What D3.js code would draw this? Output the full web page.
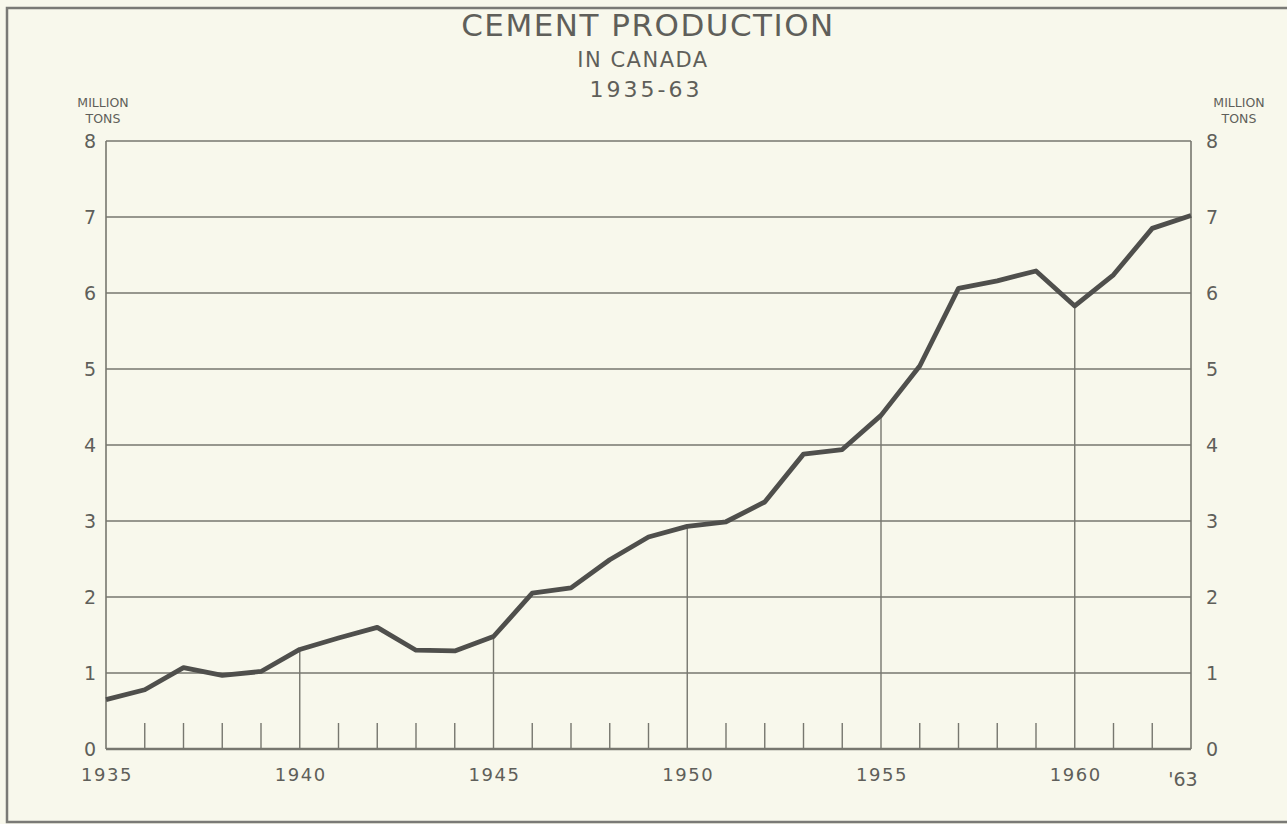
<!DOCTYPE html>
<html>
<head>
<meta charset="utf-8">
<script src="https://cdn.jsdelivr.net/npm/d3@7"></script>
<style>
  body { margin:0; background:#f8f8ec; }
  svg { display:block; }
  text { font-family: "DejaVu Sans", sans-serif; fill:#5f5f5a; }
</style>
</head>
<body>
<div id="chart"></div>
<script>
// cement production in Canada, million tons
let years = d3.range(1935, 1964);
let production = [0.65, 0.78, 1.07, 0.97, 1.02, 1.31, 1.46, 1.60, 1.30, 1.29,
                  1.48, 2.05, 2.12, 2.49, 2.79, 2.93, 2.99, 3.25, 3.88, 3.94,
                  4.39, 5.04, 6.06, 6.16, 6.29, 5.83, 6.24, 6.85, 7.02];
let y_ticks = [0, 1, 2, 3, 4, 5, 6, 7, 8];
let x_labels = [1935, 1940, 1945, 1950, 1955, 1960];

let width = 1287, height = 824;
let svg = d3.select('#chart').append('svg')
    .attr('width', width)
    .attr('height', height);

// outer frame
svg.append('rect')
    .attr('x', 7).attr('y', 8)
    .attr('width', 1300).attr('height', 814)
    .attr('fill', 'none')
    .attr('stroke', '#7a7a76')
    .attr('stroke-width', 2.5);

let x = d3.scaleLinear().domain([1935, 1963]).range([106, 1191]);
let y = d3.scaleLinear().domain([0, 8]).range([749, 141]);

let grid_color = '#77776f';

// horizontal gridlines
svg.append('g')
    .selectAll('line')
    .data(y_ticks)
    .enter()
    .append('line')
    .attr('x1', x(1935)).attr('x2', x(1963))
    .attr('y1', d => y(d)).attr('y2', d => y(d))
    .attr('stroke', grid_color)
    .attr('stroke-width', d => d == 0 ? 2.5 : 1.3);

// side borders
svg.append('g')
    .selectAll('line')
    .data([1935, 1963])
    .enter()
    .append('line')
    .attr('x1', d => x(d)).attr('x2', d => x(d))
    .attr('y1', y(0)).attr('y2', y(8))
    .attr('stroke', grid_color)
    .attr('stroke-width', 1.6);

// five-year lines run up to the curve, the other years get a short tick
let inner_years = years.filter(d => d > 1935 && d < 1963);
svg.append('g')
    .selectAll('line')
    .data(inner_years)
    .enter()
    .append('line')
    .attr('x1', d => x(d)).attr('x2', d => x(d))
    .attr('y1', y(0))
    .attr('y2', function (d) {
        if (d % 5 == 0) return y(production[d - 1935]);
        return y(0) - 26;
    })
    .attr('stroke', grid_color)
    .attr('stroke-width', 1.4);

// the data line
let line = d3.line()
    .x((d, i) => x(years[i]))
    .y(d => y(d));

svg.append('path')
    .datum(production)
    .attr('d', line)
    .attr('fill', 'none')
    .attr('stroke', '#4f4f4c')
    .attr('stroke-width', 4.8)
    .attr('stroke-linejoin', 'round');

// y labels both sides
svg.append('g')
    .selectAll('text')
    .data(y_ticks)
    .enter()
    .append('text')
    .attr('x', 96)
    .attr('y', d => y(d) + 7)
    .attr('text-anchor', 'end')
    .style('font-size', '19px')
    .text(d => d);

svg.append('g')
    .selectAll('text')
    .data(y_ticks)
    .enter()
    .append('text')
    .attr('x', 1206)
    .attr('y', d => y(d) + 7)
    .attr('text-anchor', 'start')
    .style('font-size', '19px')
    .text(d => d);

// x labels
svg.append('g')
    .selectAll('text')
    .data(x_labels)
    .enter()
    .append('text')
    .attr('x', d => x(d) + 1)
    .attr('y', 781)
    .attr('text-anchor', 'middle')
    .style('font-size', '18px')
    .style('letter-spacing', '1.5px')
    .text(d => d);

svg.append('text')
    .attr('x', x(1963) - 8)
    .attr('y', 786)
    .attr('text-anchor', 'middle')
    .style('font-size', '19px')
    .text("'63");

// unit labels
[103, 1239].forEach(function (cx) {
    svg.append('text').attr('x', cx).attr('y', 107)
        .attr('text-anchor', 'middle').style('font-size', '12.5px')
        .text('MILLION');
    svg.append('text').attr('x', cx).attr('y', 123)
        .attr('text-anchor', 'middle').style('font-size', '12.5px')
        .text('TONS');
});

// titles
svg.append('text')
    .attr('x', 648).attr('y', 36)
    .attr('text-anchor', 'middle')
    .style('font-size', '31px')
    .style('letter-spacing', '1.5px')
    .text('CEMENT PRODUCTION');

svg.append('text')
    .attr('x', 643).attr('y', 67)
    .attr('text-anchor', 'middle')
    .style('font-size', '21px')
    .style('letter-spacing', '1.5px')
    .text('IN CANADA');

svg.append('text')
    .attr('x', 646).attr('y', 97)
    .attr('text-anchor', 'middle')
    .style('font-size', '22px')
    .style('letter-spacing', '3px')
    .text('1935-63');
</script>
</body>
</html>
